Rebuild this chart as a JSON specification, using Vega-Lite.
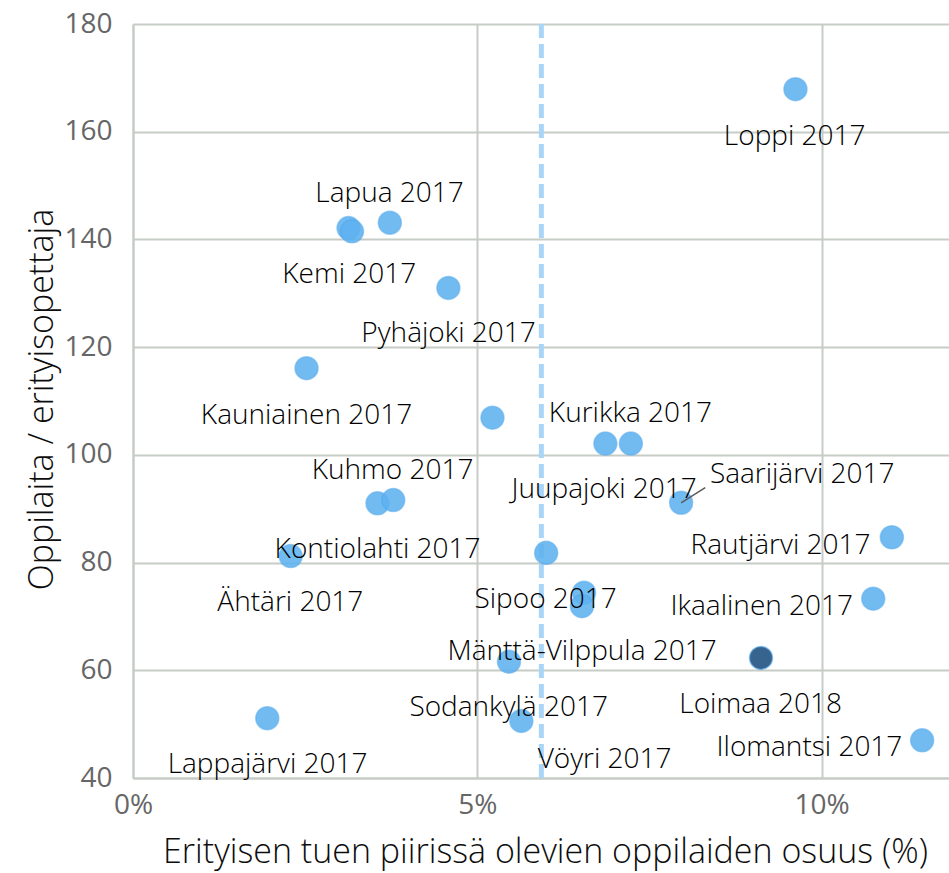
{
  "$schema": "https://vega.github.io/schema/vega-lite/v6.json",
  "autosize": "none",
  "width": 816,
  "height": 754,
  "padding": {"left": 133, "top": 24, "right": 0, "bottom": 95},
  "background": "white",
  "config": {
    "view": {"stroke": null},
    "font": "Open Sans",
    "axis": {
      "labelFont": "Open Sans",
      "titleFont": "Open Sans",
      "labelFontWeight": 400,
      "titleFontWeight": 300,
      "labelColor": "#666666",
      "titleColor": "#0d0d0d",
      "labelFontSize": 28,
      "titleFontSize": 34,
      "gridColor": "#c6ccc6",
      "gridWidth": 2,
      "domainColor": "#c6ccc6",
      "domainWidth": 2,
      "ticks": false
    }
  },
  "datasets": {
    "points": [
      {"kunta": "Loppi", "osuus": 0.0962, "oppilaita": 167.9, "ryhma": "2017"},
      {"kunta": "Lapua a", "osuus": 0.0313, "oppilaita": 142.1, "ryhma": "2017"},
      {"kunta": "Lapua b", "osuus": 0.0318, "oppilaita": 141.5, "ryhma": "2017"},
      {"kunta": "Lapua c", "osuus": 0.0373, "oppilaita": 143.1, "ryhma": "2017"},
      {"kunta": "Pyhäjoki", "osuus": 0.0458, "oppilaita": 131.0, "ryhma": "2017"},
      {"kunta": "Kauniainen", "osuus": 0.0252, "oppilaita": 116.1, "ryhma": "2017"},
      {"kunta": "Kemi", "osuus": 0.0522, "oppilaita": 106.9, "ryhma": "2017"},
      {"kunta": "Kurikka a", "osuus": 0.0686, "oppilaita": 102.1, "ryhma": "2017"},
      {"kunta": "Kurikka b", "osuus": 0.0723, "oppilaita": 102.1, "ryhma": "2017"},
      {"kunta": "Kuhmo a", "osuus": 0.0355, "oppilaita": 91.0, "ryhma": "2017"},
      {"kunta": "Kuhmo b", "osuus": 0.0378, "oppilaita": 91.6, "ryhma": "2017"},
      {"kunta": "Saarijärvi", "osuus": 0.0796, "oppilaita": 91.1, "ryhma": "2017"},
      {"kunta": "Juupajoki", "osuus": 0.0600, "oppilaita": 81.8, "ryhma": "2017"},
      {"kunta": "Ähtäri", "osuus": 0.0229, "oppilaita": 81.2, "ryhma": "2017"},
      {"kunta": "Rautjärvi", "osuus": 0.1102, "oppilaita": 84.7, "ryhma": "2017"},
      {"kunta": "Sipoo a", "osuus": 0.0655, "oppilaita": 74.4, "ryhma": "2017"},
      {"kunta": "Sipoo b", "osuus": 0.0652, "oppilaita": 71.9, "ryhma": "2017"},
      {"kunta": "Ikaalinen", "osuus": 0.1075, "oppilaita": 73.3, "ryhma": "2017"},
      {"kunta": "Mänttä-Vilppula", "osuus": 0.0546, "oppilaita": 61.6, "ryhma": "2017"},
      {"kunta": "Loimaa", "osuus": 0.0912, "oppilaita": 62.3, "ryhma": "2018"},
      {"kunta": "Sodankylä", "osuus": 0.0564, "oppilaita": 50.6, "ryhma": "2017"},
      {"kunta": "Lappajärvi", "osuus": 0.0195, "oppilaita": 51.1, "ryhma": "2017"},
      {"kunta": "Ilomantsi", "osuus": 0.1146, "oppilaita": 47.0, "ryhma": "2017"}
    ],
    "labels": [
      {"teksti": "Loppi 2017", "lx": 0.09609, "ly": 157.55},
      {"teksti": "Lapua 2017", "lx": 0.03726, "ly": 146.98},
      {"teksti": "Kemi 2017", "lx": 0.03141, "ly": 132.0},
      {"teksti": "Pyhäjoki 2017", "lx": 0.04583, "ly": 120.87},
      {"teksti": "Kauniainen 2017", "lx": 0.0252, "ly": 105.79},
      {"teksti": "Kurikka 2017", "lx": 0.07224, "ly": 106.03},
      {"teksti": "Kuhmo 2017", "lx": 0.0377, "ly": 95.58},
      {"teksti": "Juupajoki 2017", "lx": 0.06842, "ly": 92.0},
      {"teksti": "Saarijärvi 2017", "lx": 0.09718, "ly": 94.79},
      {"teksti": "Kontiolahti 2017", "lx": 0.03552, "ly": 80.87},
      {"teksti": "Ähtäri 2017", "lx": 0.02285, "ly": 70.97},
      {"teksti": "Rautjärvi 2017", "lx": 0.09403, "ly": 81.67},
      {"teksti": "Sipoo 2017", "lx": 0.05992, "ly": 71.6},
      {"teksti": "Ikaalinen 2017", "lx": 0.0913, "ly": 70.35},
      {"teksti": "Mänttä-Vilppula 2017", "lx": 0.06522, "ly": 61.82},
      {"teksti": "Loimaa 2018", "lx": 0.09115, "ly": 52.12},
      {"teksti": "Sodankylä 2017", "lx": 0.05455, "ly": 51.5},
      {"teksti": "Lappajärvi 2017", "lx": 0.01954, "ly": 41.0},
      {"teksti": "Vöyri 2017", "lx": 0.06849, "ly": 41.9},
      {"teksti": "Ilomantsi 2017", "lx": 0.09823, "ly": 44.1}
    ],
    "leader": [
      {"lx": 0.0796, "ly": 91.1},
      {"lx": 0.0831, "ly": 93.9}
    ],
    "reference": [
      {"raja": 0.0593}
    ]
  },
  "layer": [
    {
      "data": {"name": "reference"},
      "mark": {"type": "rule", "color": "#a9d5f7", "strokeWidth": 5, "strokeDash": [14, 6]},
      "encoding": {
        "x": {"field": "raja", "type": "quantitative", "scale": {"domain": [0, 0.1185], "nice": false}}
      }
    },
    {
      "data": {"name": "points"},
      "mark": {"type": "circle", "size": 530, "opacity": 0.88, "stroke": "#4ea6ec", "strokeWidth": 1.5, "strokeOpacity": 0.6},
      "encoding": {
        "x": {
          "field": "osuus",
          "type": "quantitative",
          "scale": {"domain": [0, 0.1185], "nice": false, "zero": false},
          "axis": {
            "values": [0, 0.05, 0.1],
            "format": ".0%",
            "title": "Erityisen tuen piirissä olevien oppilaiden osuus (%)",
            "titleX": 412,
            "titleY": 84,
            "titleBaseline": "alphabetic",
            "labelPadding": 13,
            "labelFlush": false
          }
        },
        "y": {
          "field": "oppilaita",
          "type": "quantitative",
          "scale": {"domain": [40, 180], "nice": false, "zero": false},
          "axis": {
            "values": [40, 60, 80, 100, 120, 140, 160, 180],
            "title": "Oppilaita / erityisopettaja",
            "titleX": -81,
            "titleY": 375,
            "titleBaseline": "alphabetic",
            "labelPadding": 21
          }
        },
        "color": {
          "field": "ryhma",
          "type": "nominal",
          "scale": {"domain": ["2017", "2018"], "range": ["#5eb2f0", "#1b4f80"]},
          "legend": null
        }
      }
    },
    {
      "data": {"name": "leader"},
      "mark": {"type": "line", "color": "#595959", "strokeWidth": 1.5},
      "encoding": {
        "x": {"field": "lx", "type": "quantitative"},
        "y": {"field": "ly", "type": "quantitative"}
      }
    },
    {
      "data": {"name": "labels"},
      "mark": {"type": "text", "font": "Open Sans", "fontWeight": 300, "fontSize": 28, "color": "#000000", "align": "center", "baseline": "alphabetic"},
      "encoding": {
        "x": {"field": "lx", "type": "quantitative"},
        "y": {"field": "ly", "type": "quantitative"},
        "text": {"field": "teksti"}
      }
    }
  ]
}
